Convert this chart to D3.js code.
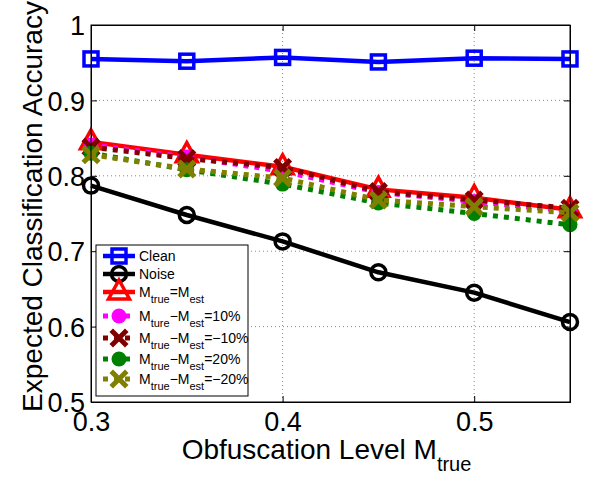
<!DOCTYPE html>
<html><head><meta charset="utf-8">
<script src="https://cdn.jsdelivr.net/npm/d3@7"></script>
<style>body{margin:0;background:#fff}svg{display:block}text{font-family:"Liberation Sans",Arial,sans-serif;fill:#000}</style>
</head><body><svg id="c" width="596" height="481"></svg>
<script>
const xValues = [0.3, 0.35, 0.4, 0.45, 0.5, 0.55];
const clean   = [0.955, 0.952, 0.957, 0.951, 0.956, 0.955];
const noise   = [0.787, 0.748, 0.713, 0.672, 0.645, 0.606];
const exact   = [0.845, 0.828, 0.812, 0.782, 0.771, 0.755];
const plus10  = [0.841, 0.825, 0.806, 0.778, 0.766, 0.753];
const minus10 = [0.838, 0.823, 0.811, 0.779, 0.768, 0.757];
const plus20  = [0.830, 0.808, 0.789, 0.764, 0.750, 0.735];
const minus20 = [0.828, 0.809, 0.797, 0.768, 0.759, 0.751];
const xTicks = [0.3, 0.4, 0.5];
const yTicks = [0.5, 0.6, 0.7, 0.8, 0.9, 1];
const yTickLabels = ["0.5", "0.6", "0.7", "0.8", "0.9", "1"];
const xTickLabels = ["0.3", "0.4", "0.5"];

const series = [
  {name:[["Clean"]], values:clean, color:"#0000ff", marker:"square", dotted:false},
  {name:[["Noise"]], values:noise, color:"#000000", marker:"circle", dotted:false},
  {name:[["M"],["true","sub"],["=M"],["est","sub"]], values:exact, color:"#ff0000", marker:"triangle", dotted:false},
  {name:[["M"],["ture","sub"],["\u2212M"],["est","sub"],["=10%"]], values:plus10, color:"#ff00ff", marker:"dot", dotted:true},
  {name:[["M"],["true","sub"],["\u2212M"],["est","sub"],["=\u221210%"]], values:minus10, color:"#800000", marker:"x", dotted:true},
  {name:[["M"],["true","sub"],["\u2212M"],["est","sub"],["=20%"]], values:plus20, color:"#008000", marker:"dot", dotted:true},
  {name:[["M"],["true","sub"],["\u2212M"],["est","sub"],["=\u221220%"]], values:minus20, color:"#808000", marker:"x", dotted:true}
];

const svg = d3.select("#c");
const L = 91, R = 570, T = 25, B = 402;
const x = d3.scaleLinear().domain([0.3, 0.55]).range([L, R]);
const y = d3.scaleLinear().domain([0.5, 1]).range([B, T]);

// grid
const grid = svg.append("g").attr("stroke", "#888").attr("stroke-width", 1).attr("stroke-dasharray", "1,3");
xTicks.filter(v => v > 0.3).forEach(v => grid.append("line").attr("x1", x(v)).attr("x2", x(v)).attr("y1", T).attr("y2", B));
yTicks.filter(v => v > 0.5 && v < 1).forEach(v => grid.append("line").attr("x1", L).attr("x2", R).attr("y1", y(v)).attr("y2", y(v)));

// axes with inward ticks
const fs = 27;
const ax = svg.append("g").attr("transform", `translate(0,${B})`)
  .call(d3.axisBottom(x).tickValues(xTicks).tickSize(-6).tickPadding(12).tickFormat((d,i) => xTickLabels[i]));
const axT = svg.append("g").attr("transform", `translate(0,${T})`)
  .call(d3.axisTop(x).tickValues(xTicks).tickSize(-6).tickFormat(""));
const ay = svg.append("g").attr("transform", `translate(${L},0)`)
  .call(d3.axisLeft(y).tickValues(yTicks).tickSize(-6).tickPadding(6).tickFormat((d,i) => yTickLabels[i]));
const ayR = svg.append("g").attr("transform", `translate(${R},0)`)
  .call(d3.axisRight(y).tickValues(yTicks).tickSize(-6).tickFormat(""));
[ax, axT, ay, ayR].forEach(g => {
  g.selectAll("path").attr("stroke", "#000").attr("stroke-width", 1);
  g.selectAll("line").attr("stroke", "#000");
  g.selectAll("text").attr("font-size", fs).attr("font-family", '"Liberation Sans",Arial,sans-serif').attr("fill", "#000");
});
ax.selectAll("text").attr("dy", null).attr("y", 29);
ay.selectAll("text").attr("dy", "0.36em").attr("x", -6);

// marker drawing
function drawMarker(g, type, color, cx, cy) {
  if (type === "square") {
    g.append("rect").attr("x", cx - 7).attr("y", cy - 7).attr("width", 14).attr("height", 14)
      .attr("fill", "none").attr("stroke", color).attr("stroke-width", 3.5);
  } else if (type === "circle") {
    g.append("circle").attr("cx", cx).attr("cy", cy).attr("r", 7.5)
      .attr("fill", "none").attr("stroke", color).attr("stroke-width", 3.5);
  } else if (type === "triangle") {
    g.append("path").attr("d", `M${cx},${cy-12}L${cx+10.5},${cy+7}L${cx-10.5},${cy+7}Z`)
      .attr("fill", "none").attr("stroke", color).attr("stroke-width", 3.5).attr("stroke-linejoin", "miter");
  } else if (type === "dot") {
    g.append("circle").attr("cx", cx).attr("cy", cy).attr("r", 7.5).attr("fill", color);
  } else if (type === "x") {
    const s = 6;
    g.append("path").attr("d", `M${cx-s},${cy-s}L${cx+s},${cy+s}M${cx-s},${cy+s}L${cx+s},${cy-s}`)
      .attr("stroke", color).attr("stroke-width", 5).attr("stroke-linecap", "square");
  }
}

const line = d3.line().x((d, i) => x(xValues[i])).y(d => y(d));
const plot = svg.append("g");
series.forEach(s => {
  const g = plot.append("g");
  g.append("path").attr("d", line(s.values)).attr("fill", "none").attr("stroke", s.color)
    .attr("stroke-width", s.dotted ? 5 : 4.5)
    .attr("stroke-dasharray", s.dotted ? "5,6" : null)
    .attr("stroke-linejoin", "round");
  s.values.forEach((v, i) => drawMarker(g, s.marker, s.color, x(xValues[i]), y(v)));
});

// box on top
svg.append("rect").attr("x", L).attr("y", T).attr("width", R - L).attr("height", B - T)
  .attr("fill", "none").attr("stroke", "#000").attr("stroke-width", 1);

// legend
const legX = 96, legY = 245, legW = 152, legH = 151;
const leg = svg.append("g");
leg.append("rect").attr("x", legX).attr("y", legY).attr("width", legW).attr("height", legH)
  .attr("fill", "#fff").attr("stroke", "#000").attr("stroke-width", 1);
const rowOffsets = [11, 29, 47, 71, 93, 114, 134];
series.forEach((s, i) => {
  const ry = legY + rowOffsets[i];
  const g = leg.append("g");
  g.append("line").attr("x1", 103).attr("x2", 135).attr("y1", ry).attr("y2", ry)
    .attr("stroke", s.color).attr("stroke-width", s.dotted ? 5 : 4.5)
    .attr("stroke-dasharray", s.dotted ? "5,6" : null);
  drawMarker(g, s.marker, s.color, 119, ry);
  const t = g.append("text").attr("x", 139).attr("y", ry + 5).attr("font-size", 14);
  let sub = false;
  s.name.forEach(p => {
    const isSub = p[1] === "sub";
    const ts = t.append("tspan").text(p[0]).attr("font-size", isSub ? 11 : 14);
    if (isSub && !sub) ts.attr("dy", 6);
    if (!isSub && sub) ts.attr("dy", -6);
    sub = isSub;
  });
});

// axis labels
const xl = svg.append("text").attr("x", (L + R) / 2 - 4).attr("y", 459).attr("text-anchor", "middle").attr("font-size", 28);
xl.append("tspan").text("Obfuscation Level M");
xl.append("tspan").text("true").attr("font-size", 20).attr("dy", 12);

svg.append("text").attr("transform", `translate(42,${(T + B) / 2 - 7}) rotate(-90)`)
  .attr("text-anchor", "middle").attr("font-size", 28).text("Expected Classification Accuracy");
</script></body></html>
